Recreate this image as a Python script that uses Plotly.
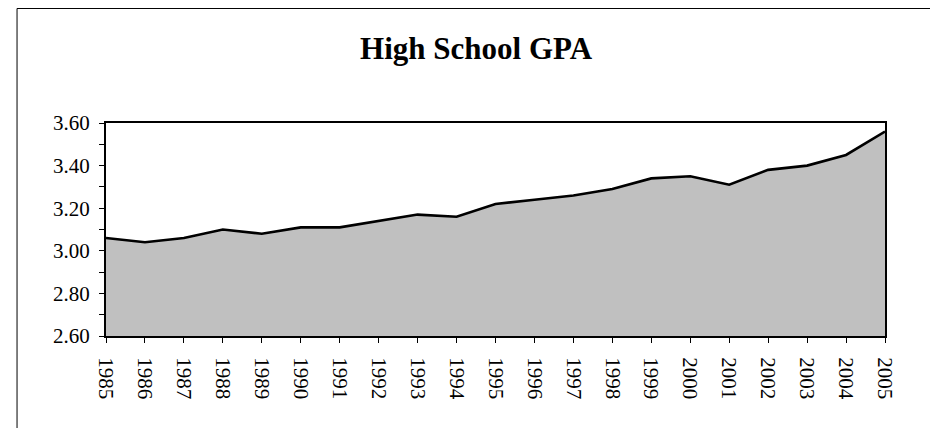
import plotly.graph_objects as go

# data
years = list(range(1985, 2006))
gpa = [3.06, 3.04, 3.06, 3.10, 3.08, 3.11, 3.11, 3.14, 3.17, 3.16,
       3.22, 3.24, 3.26, 3.29, 3.34, 3.35, 3.31, 3.38, 3.40, 3.45, 3.56]
chart_title = "High School GPA"

serif = "Liberation Serif, Times New Roman, serif"

trace = go.Scatter(
    x=years,
    y=gpa,
    mode="lines",
    line=dict(color="black", width=2.6),
    fill="tozeroy",
    fillcolor="#c0c0c0",
    hoverinfo="x+y",
)

fig = go.Figure(data=[trace])

fig.update_layout(
    width=938,
    height=428,
    margin=dict(l=98, r=61, t=115, b=100),
    paper_bgcolor="white",
    plot_bgcolor="white",
    showlegend=False,
    font=dict(family=serif, size=21, color="black"),
    title=dict(
        text="<b>" + chart_title + "</b>",
        x=0.499,
        xanchor="center",
        y=0.906,
        yanchor="middle",
        font=dict(family=serif, size=31, color="black"),
    ),
    xaxis=dict(
        range=[1985, 2005],
        tickmode="array",
        tickvals=years,
        ticktext=[str(y) for y in years],
        tickangle=90,
        ticks="outside",
        ticklen=5,
        tickcolor="black",
        ticklabelstandoff=10,
        showgrid=False,
        zeroline=False,
        showline=True,
        linecolor="black",
        linewidth=2.2,
        mirror=True,
    ),
    yaxis=dict(
        range=[2.6, 3.6],
        dtick=0.2,
        tick0=2.6,
        tickformat=".2f",
        ticks="outside",
        ticklen=5,
        tickcolor="black",
        ticklabelstandoff=5,
        minor=dict(dtick=0.1, ticks="outside", ticklen=5, tickcolor="black"),
        showgrid=False,
        zeroline=False,
        showline=True,
        linecolor="black",
        linewidth=2.2,
        mirror=True,
    ),
)

# thin border round the whole chart area
fig.add_shape(
    type="rect",
    xref="paper", yref="paper",
    x0=-0.1142, x1=1.0642, y0=-0.45, y1=1.5376,
    line=dict(color="black", width=1),
    fillcolor="rgba(0,0,0,0)",
    layer="above",
)

fig.write_html("out.html")
